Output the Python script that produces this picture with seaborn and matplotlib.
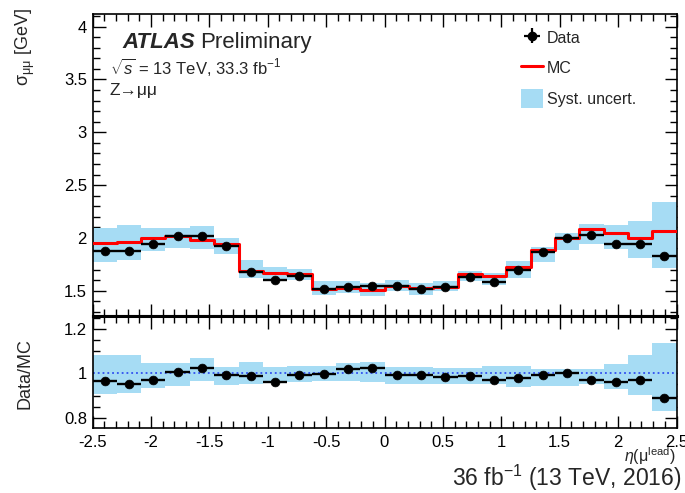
import numpy as np
import matplotlib
matplotlib.use("Agg")
import matplotlib.pyplot as plt
import seaborn as sns
import pandas as pd
from matplotlib.ticker import MultipleLocator, FuncFormatter
from matplotlib.lines import Line2D
from matplotlib.patches import Patch

# ---------------- data ----------------
eta_edges = np.linspace(-2.5, 2.5, 25)
data_sigma = [1.874, 1.874, 1.939, 2.016, 2.016, 1.926, 1.677, 1.597, 1.639, 1.516, 1.532, 1.542,
              1.542, 1.516, 1.532, 1.629, 1.581, 1.700, 1.868, 2.003, 2.026, 1.945, 1.945, 1.832]
mc_sigma = [1.952, 1.961, 2.000, 2.019, 1.977, 1.945, 1.687, 1.671, 1.655, 1.516, 1.526, 1.503,
            1.548, 1.526, 1.535, 1.655, 1.639, 1.726, 1.881, 1.994, 2.081, 2.042, 1.994, 2.065]
syst_hi = [2.097, 2.123, 2.090, 2.090, 2.113, 1.994, 1.790, 1.726, 1.703, 1.590, 1.590, 1.574,
           1.597, 1.574, 1.590, 1.687, 1.671, 1.784, 1.913, 2.042, 2.129, 2.123, 2.161, 2.339]
syst_lo = [1.768, 1.790, 1.880, 1.906, 1.897, 1.848, 1.616, 1.597, 1.597, 1.461, 1.477, 1.445,
           1.494, 1.461, 1.494, 1.590, 1.558, 1.623, 1.768, 1.887, 1.945, 1.897, 1.806, 1.716]
ratio = [0.965, 0.953, 0.970, 1.005, 1.023, 0.994, 0.989, 0.962, 0.994, 0.998, 1.020, 1.023,
         0.994, 0.994, 0.985, 0.989, 0.971, 0.980, 0.994, 1.002, 0.971, 0.959, 0.971, 0.890]
ratio_hi = [1.081, 1.081, 1.046, 1.046, 1.068, 1.030, 1.050, 1.030, 1.035, 1.035, 1.047, 1.053,
            1.027, 1.027, 1.023, 1.023, 1.032, 1.032, 1.020, 1.020, 1.020, 1.043, 1.081, 1.134]
ratio_lo = [0.906, 0.913, 0.936, 0.944, 0.966, 0.948, 0.951, 0.959, 0.962, 0.966, 0.966, 0.962,
            0.951, 0.951, 0.951, 0.951, 0.951, 0.939, 0.944, 0.944, 0.951, 0.932, 0.901, 0.830]
x_ticks = [-2.5, -2, -1.5, -1, -0.5, 0, 0.5, 1, 1.5, 2, 2.5]

# ---------------- style ----------------
sns.set_theme(style="ticks")
plt.rcParams['font.family'] = ['Liberation Sans', 'DejaVu Sans']
plt.rcParams['mathtext.fontset'] = 'custom'
plt.rcParams['mathtext.rm'] = 'Liberation Sans'
plt.rcParams['mathtext.it'] = 'Liberation Sans:italic'
plt.rcParams['mathtext.bf'] = 'Liberation Sans:bold'
plt.rcParams['axes.edgecolor'] = 'black'
plt.rcParams['xtick.color'] = 'black'
plt.rcParams['ytick.color'] = 'black'

W, H = 685, 493
def fx(px): return px / W
def fy(py): return 1 - py / H

fig = plt.figure(figsize=(W / 100, H / 100), dpi=100)
L, R = 92.5, 676.5
ax = fig.add_axes([fx(L), fy(316), (R - L) / W, (316 - 14) / H])
axr = fig.add_axes([fx(L), fy(428), (R - L) / W, (428 - 316) / H])

edges = np.asarray(eta_edges)
centers = 0.5 * (edges[:-1] + edges[1:])
halfw = 0.5 * np.diff(edges)
band_color = '#a6dcf4'

df = pd.DataFrame({'eta': centers, 'data': data_sigma, 'ratio': ratio})
step_df = pd.DataFrame({'edge': edges, 'mc': list(mc_sigma) + [mc_sigma[-1]]})

# ---- top panel ----
ax.fill_between(edges, list(syst_lo) + [syst_lo[-1]], list(syst_hi) + [syst_hi[-1]],
                step='post', color=band_color, lw=0, zorder=1)
sns.lineplot(data=step_df, x='edge', y='mc', drawstyle='steps-post', color='#ff0000',
             lw=2.2, estimator=None, ax=ax, zorder=3)
ax.errorbar(df['eta'], df['data'], xerr=halfw, fmt='none', ecolor='black', elinewidth=1.7, zorder=4)
sns.scatterplot(data=df, x='eta', y='data', color='black', edgecolor='black', s=40,
                ax=ax, zorder=5, linewidth=0.5)

# ---- ratio panel ----
axr.fill_between(edges, list(ratio_lo) + [ratio_lo[-1]], list(ratio_hi) + [ratio_hi[-1]],
                 step='post', color=band_color, lw=0, zorder=1)
axr.axhline(1.0, color='#3050f0', ls=':', lw=1.3, zorder=2)
axr.errorbar(df['eta'], df['ratio'], xerr=halfw, fmt='none', ecolor='black', elinewidth=1.7, zorder=4)
sns.scatterplot(data=df, x='eta', y='ratio', color='black', edgecolor='black', s=40,
                ax=axr, zorder=5, linewidth=0.5)

fmt = FuncFormatter(lambda v, p: '%g' % v)
for a in (ax, axr):
    a.set_xlim(-2.5, 2.5)
    a.set_xlabel('')
    a.set_ylabel('')
    a.xaxis.set_major_locator(MultipleLocator(0.5))
    a.xaxis.set_minor_locator(MultipleLocator(0.1))
    a.yaxis.set_major_formatter(fmt)
    a.xaxis.set_major_formatter(fmt)
    a.tick_params(which='both', direction='in', top=True, right=True, labelsize=12, pad=4)
    a.tick_params(which='major', length=9, width=1)
    a.tick_params(which='minor', length=5, width=1)
    for s in a.spines.values():
        s.set_linewidth(1.2)

ax.set_ylim(1.26, 4.12)
ax.yaxis.set_major_locator(MultipleLocator(0.5))
ax.yaxis.set_minor_locator(MultipleLocator(0.1))
ax.tick_params(labelbottom=False)
ax.spines['bottom'].set_linewidth(2.2)

axr.set_ylim(0.755, 1.257)
axr.yaxis.set_major_locator(MultipleLocator(0.2))
axr.yaxis.set_minor_locator(MultipleLocator(0.05))
axr.set_xticks(x_ticks)
axr.tick_params(axis='x', pad=5)
axr.spines['top'].set_linewidth(2.2)

# ---- legend ----
h_data = ax.errorbar([np.nan], [np.nan], xerr=[1], yerr=[1], fmt='o', color='black',
                     ms=6, elinewidth=1.6)
h_mc = Line2D([], [], color='#ff0000', lw=2.2)
h_sys = Patch(facecolor=band_color, edgecolor='none')
leg = fig.legend([h_data, h_mc, h_sys], ['Data', 'MC', 'Syst. uncert.'],
                 loc='upper left', bbox_to_anchor=(fx(521), fy(28)), frameon=False,
                 fontsize=11.5, handlelength=1.4, handleheight=1.5, handletextpad=0.2,
                 labelspacing=0.68, borderpad=0, borderaxespad=0)

# ---- texts ----
t1 = fig.text(fx(122), fy(48), 'ATLAS', fontsize=16, fontweight='bold', fontstyle='italic',
              va='baseline', ha='left')
fig.canvas.draw()
bb = t1.get_window_extent(fig.canvas.get_renderer())
fig.text(fx(bb.x1 + 5), fy(48), 'Preliminary', fontsize=16, va='baseline', ha='left')
fig.text(fx(110), fy(74), r'$\sqrt{s}$ = 13 TeV, 33.3 fb$^{-1}$', fontsize=12,
         va='baseline', ha='left')
fig.text(fx(110), fy(95), 'Z→μμ', fontsize=12.5, va='baseline', ha='left')

fig.text(fx(25), fy(8), r'σ$_{\mathregular{μμ}}$ [GeV]', rotation=90, fontsize=13,
         ha='center', va='top')
fig.text(fx(25), fy(374), 'Data/MC', rotation=90, fontsize=13, ha='center', va='center')
fig.text(fx(676), fy(462), r'$\eta$(μ$^{\mathregular{lead}}$)', fontsize=11.5,
         ha='right', va='baseline')
fig.text(fx(681), fy(486), r'36 fb$^{-1}$ (13 TeV, 2016)', fontsize=16.5,
         ha='right', va='baseline')

fig.savefig('out.png', dpi=100)
